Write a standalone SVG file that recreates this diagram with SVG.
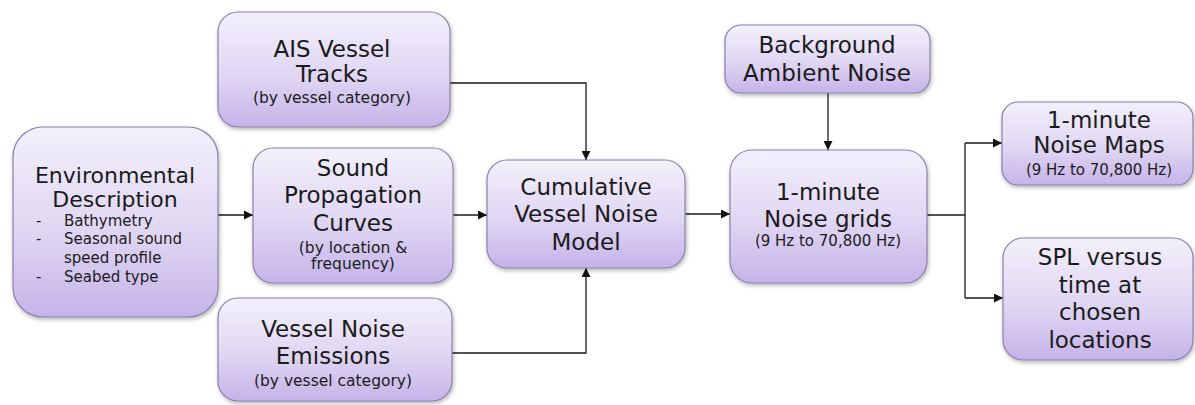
<svg xmlns="http://www.w3.org/2000/svg" width="1195" height="405" viewBox="0 0 1195 405">
<defs>
<linearGradient id="g" x1="0" y1="0" x2="0" y2="1">
<stop offset="0" stop-color="#f3f0fb"/>
<stop offset="0.55" stop-color="#e0d6f3"/>
<stop offset="1" stop-color="#c5b3e8"/>
</linearGradient>
<filter id="sh" x="-10%" y="-10%" width="125%" height="130%">
<feGaussianBlur in="SourceAlpha" stdDeviation="2"/>
<feOffset dx="1" dy="2" result="b"/>
<feComponentTransfer><feFuncA type="linear" slope="0.3"/></feComponentTransfer>
<feMerge><feMergeNode/><feMergeNode in="SourceGraphic"/></feMerge>
</filter>
<marker id="ah" viewBox="0 0 10 10" refX="10" refY="5" markerWidth="9" markerHeight="9" markerUnits="userSpaceOnUse" orient="auto">
<path d="M0,0 L10,5 L0,10 Z" fill="#111"/>
</marker>
</defs>
<style>
.box{fill:url(#g);stroke:#8d7fae;stroke-width:1.2;filter:url(#sh)}
.t{font-family:"DejaVu Sans",Verdana,sans-serif;font-size:23px;fill:#1b1b1b;text-anchor:middle}
.s{font-family:"DejaVu Sans",Verdana,sans-serif;font-size:15.5px;fill:#1b1b1b;text-anchor:middle}
.b{font-family:"DejaVu Sans",Verdana,sans-serif;font-size:15px;fill:#1b1b1b}
.c{fill:none;stroke:#1a1a1a;stroke-width:1.3}
</style>
<rect width="1195" height="405" fill="#ffffff"/>

<g id="connectors">
<path class="c" d="M218,215 H253" marker-end="url(#ah)"/>
<path class="c" d="M453,215 H487" marker-end="url(#ah)"/>
<path class="c" d="M450,83 H586 V160" marker-end="url(#ah)"/>
<path class="c" d="M452,353 H586 V268" marker-end="url(#ah)"/>
<path class="c" d="M685,214 H730" marker-end="url(#ah)"/>
<path class="c" d="M828,93 V150" marker-end="url(#ah)"/>
<path class="c" d="M927,215 H965"/>
<path class="c" d="M965,143 V298"/>
<path class="c" d="M965,143 H1002" marker-end="url(#ah)"/>
<path class="c" d="M965,298 H1003" marker-end="url(#ah)"/>
</g>

<g id="env">
<rect class="box" x="13" y="127" width="205" height="190" rx="30"/>
<text class="t" x="115" y="183" style="font-size:22px">Environmental</text>
<text class="t" x="115" y="207" style="font-size:22px">Description</text>
<text class="b" x="36" y="226">-</text><text class="b" x="64" y="226">Bathymetry</text>
<text class="b" x="36" y="244">-</text><text class="b" x="64" y="244">Seasonal sound</text>
<text class="b" x="64" y="263">speed profile</text>
<text class="b" x="36" y="282">-</text><text class="b" x="64" y="282">Seabed type</text>
</g>

<g id="ais">
<rect class="box" x="218" y="12" width="232" height="115" rx="20"/>
<text class="t" x="332" y="57">AIS Vessel</text>
<text class="t" x="332" y="82">Tracks</text>
<text class="s" x="332" y="103">(by vessel category)</text>
</g>

<g id="spc">
<rect class="box" x="253" y="148" width="200" height="135" rx="20"/>
<text class="t" x="353" y="176">Sound</text>
<text class="t" x="353" y="203">Propagation</text>
<text class="t" x="353" y="231">Curves</text>
<text class="s" x="353" y="253">(by location &amp;</text>
<text class="s" x="353" y="269">frequency)</text>
</g>

<g id="vne">
<rect class="box" x="218" y="298" width="234" height="103" rx="20"/>
<text class="t" x="333" y="337">Vessel Noise</text>
<text class="t" x="333" y="364">Emissions</text>
<text class="s" x="333" y="386">(by vessel category)</text>
</g>

<g id="cvnm">
<rect class="box" x="487" y="160" width="198" height="108" rx="20"/>
<text class="t" x="586" y="195">Cumulative</text>
<text class="t" x="586" y="222">Vessel Noise</text>
<text class="t" x="586" y="250">Model</text>
</g>

<g id="ban">
<rect class="box" x="725" y="25" width="205" height="68" rx="16"/>
<text class="t" x="827" y="53">Background</text>
<text class="t" x="827" y="81">Ambient Noise</text>
</g>

<g id="grids">
<rect class="box" x="730" y="150" width="197" height="133" rx="22"/>
<text class="t" x="828" y="200">1-minute</text>
<text class="t" x="828" y="227">Noise grids</text>
<text class="s" x="828" y="246" style="font-size:15px">(9 Hz to 70,800 Hz)</text>
</g>

<g id="maps">
<rect class="box" x="1002" y="102" width="191" height="83" rx="16"/>
<text class="t" x="1099" y="128">1-minute</text>
<text class="t" x="1099" y="153">Noise Maps</text>
<text class="s" x="1099" y="175" style="font-size:15px">(9 Hz to 70,800 Hz)</text>
</g>

<g id="spl">
<rect class="box" x="1003" y="238" width="190" height="122" rx="20"/>
<text class="t" x="1100" y="265">SPL versus</text>
<text class="t" x="1100" y="293">time at</text>
<text class="t" x="1100" y="320">chosen</text>
<text class="t" x="1100" y="348">locations</text>
</g>
</svg>
